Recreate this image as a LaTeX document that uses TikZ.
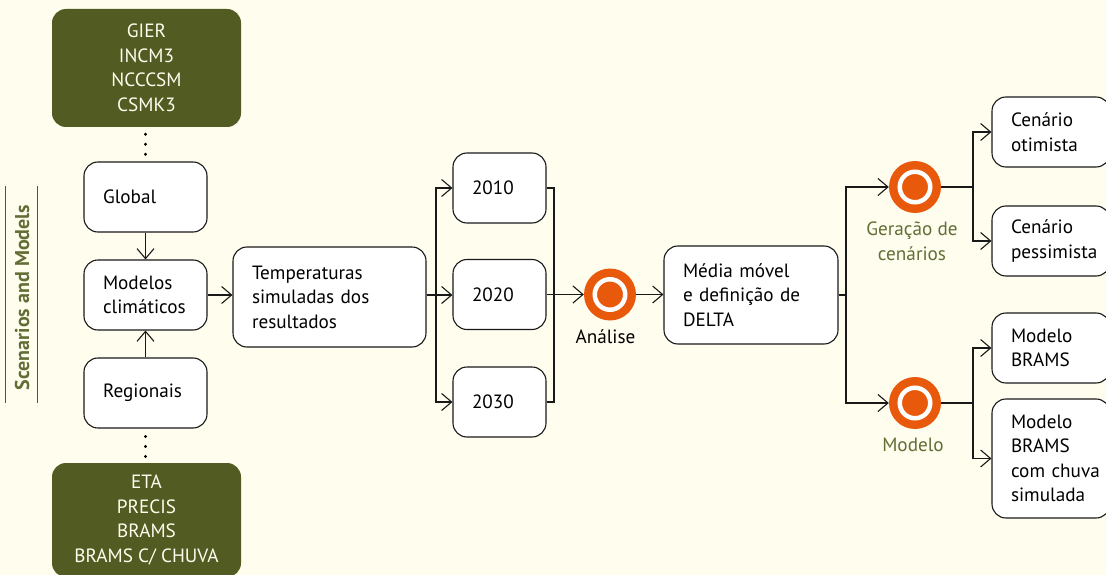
\documentclass[tikz,border=0pt]{standalone}
\usepackage{fontspec}
\setmainfont{PT Sans}
\usetikzlibrary{arrows.meta}

\definecolor{paper}{HTML}{FFFDEE}
\definecolor{olive}{HTML}{525B22}
\definecolor{olivetxt}{HTML}{626E35}
\definecolor{flame}{HTML}{E8590C}

\tikzset{
	wbox/.style 2 args={draw=black!90, fill=white, line width=1.1pt, rounded corners=14pt, align=left,
		inner xsep=19pt, inner ysep=0pt, text width=#1, minimum height=#2, font=\fontsize{19.2}{24.5}\selectfont},
	gbox/.style={fill=olive, text=paper, rounded corners=14pt, align=center, minimum width=189pt,
		inner sep=0pt, font=\fontsize{19.2}{24.5}\selectfont},
	ring/.style={circle, fill=flame, draw=white, line width=4.5pt, minimum size=30.5pt, inner sep=0pt, outer sep=0pt},
	halo/.style={circle, fill=flame, minimum size=52pt, inner sep=0pt},
	tag/.style={align=center, inner sep=0pt, font=\fontsize{19.2}{24.5}\selectfont},
	wire/.style={line width=1.1pt, draw=black!90},
	arr/.style={wire, -{Straight Barb[length=10pt, width=17pt, line width=1.1pt]}},
	dots/.style={line width=3.3pt, line cap=round, dash pattern=on 0pt off 10pt, draw=black}
}

\begin{document}
\begin{tikzpicture}[x=1pt, y=-1pt]
	\fill [paper] (0,0) rectangle (1106,575);
	\useasboundingbox (0,0) rectangle (1106,575);

	\draw [olive, line width=1pt] (5,186) -- (5,403);
	\draw [olive, line width=1pt] (37,186) -- (37,403);
	\node (side) at (22,297.5) [rotate=90, inner sep=0pt, text=olivetxt, font=\fontsize{20}{22}\selectfont\bfseries] {Scenarios and Models};

	\node (glob) at (146.5,68) [gbox, minimum height=118pt] {GIER\\INCM3\\NCCCSM\\CSMK3};
	\node (regi) at (146.5,520) [gbox, minimum height=114pt] {ETA\\PRECIS\\BRAMS\\BRAMS C/ CHUVA};

	\node (gl)  at (145.5,197) [wbox={85pt}{70pt}] {Global};
	\node (mc)  at (145.5,295) [wbox={85pt}{70pt}] {Modelos\\climáticos};
	\node (rg)  at (145.5,393) [wbox={85pt}{70pt}] {Regionais};
	\node (tmp) at (329.5,297) [wbox={155pt}{100pt}] {Temperaturas\\simuladas dos\\resultados};

	\node (y10) at (499.5,188) [wbox={55pt}{70pt}] {2010};
	\node (y20) at (499.5,294.5) [wbox={55pt}{70pt}] {2020};
	\node (y30) at (499.5,402) [wbox={55pt}{70pt}] {2030};

	\node (med) at (751,295) [wbox={136pt}{98pt}] {Média móvel\\e definição de\\DELTA};

	\node (ot) at (1051,132) [wbox={80pt}{70pt}] {Cenário\\otimista};
	\node (pe) at (1051,241) [wbox={80pt}{70pt}] {Cenário\\\mbox{pessimista}};
	\node (br) at (1051,348) [wbox={80pt}{70pt}] {Modelo\\BRAMS};
	\node (ch) at (1051,458.5) [wbox={80pt}{119pt}] {Modelo\\BRAMS\\\mbox{com chuva}\\simulada};

	\node (an)  at (610,294.5) [halo] {};
	\node (ge)  at (915,187) [halo] {};
	\node (mo)  at (915,403) [halo] {};
	\node (an2) at (610,294.5) [ring] {};
	\node (ge2) at (915,187) [ring] {};
	\node (mo2) at (915,403) [ring] {};

	\node (anl) at (605.5,337) [tag] {Análise};
	\node (gel) at (912,241.5) [tag, text=olivetxt] {Geração de\\cenários};
	\node (mol) at (913,445) [tag, text=olivetxt] {Modelo};

	\coordinate (busa) at (436,295);
	\coordinate (busb) at (554,294.5);
	\coordinate (busc) at (846,295);
	\coordinate (busd) at (973,187);
	\coordinate (buse) at (973,403);

	\draw [dots, shorten <=7pt, shorten >=6pt] (glob.south -| gl.north) -- (gl.north);
	\draw [dots, shorten <=8pt, shorten >=6pt] (rg.south) -- (rg.south |- regi.north);

	\draw [arr] (gl) -- (mc);
	\draw [arr] (rg) -- (mc);
	\draw [arr] (mc) -- (mc -| tmp.west);

	\draw [arr] (tmp.east |- busa) -- (busa -| y20.west);
	\draw [arr] (busa) |- (y10);
	\draw [arr] (busa) |- (y30);

	\draw [wire] (y10.east) -| (busb);
	\draw [wire] (y30.east) -| (busb);
	\draw [arr] (y20) -- (an);
	\draw [arr] (an) -- (med.west |- an);

	\draw [wire] (med.east) -- (busc);
	\draw [arr] (busc) |- (ge);
	\draw [arr] (busc) |- (mo);

	\draw [wire] (ge) -- (busd);
	\draw [arr] (busd) |- (ot.west);
	\draw [arr] (busd) |- (pe.west);

	\draw [wire] (mo) -- (buse);
	\draw [arr] (buse) |- (br.west);
	\draw [arr] (buse) |- (ch.west);
\end{tikzpicture}
\end{document}
